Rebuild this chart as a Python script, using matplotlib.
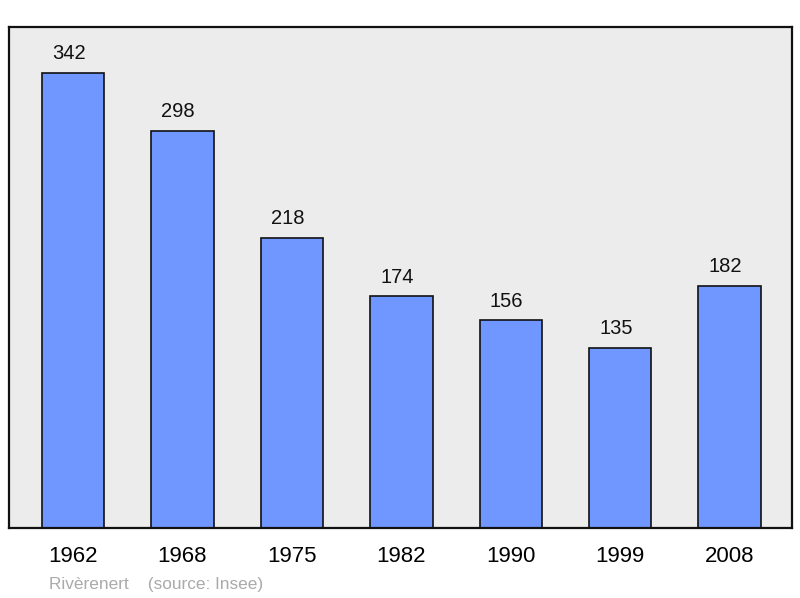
import matplotlib
matplotlib.use("Agg")
import matplotlib.pyplot as plt

years = ["1962", "1968", "1975", "1982", "1990", "1999", "2008"]
population = [342, 298, 218, 174, 156, 135, 182]

plt.rcParams["font.family"] = ["Liberation Sans", "DejaVu Sans"]

fig = plt.figure(figsize=(8, 5.98), dpi=100)
ax = fig.add_axes([9 / 800, 1 - 528 / 598, 783 / 800, 501 / 598])
ax.set_facecolor("#ececec")

x = list(range(len(years)))
ax.bar(x, population, width=0.57, color="#7097ff", edgecolor="#111111", linewidth=1.2, zorder=2)

# value labels sit a little left of bar centre, as in the original
for xi, v in zip(x, population):
    ax.annotate(str(v), (xi, v), xytext=(-3, 7), textcoords="offset points",
                ha="center", va="bottom", fontsize=14.5, color="#111111")

ax.set_xlim(-0.585, 6.57)
ax.set_ylim(0, 342 * 1.1)
ax.set_yticks([])
ax.set_xticks(x)
ax.set_xticklabels(years, fontsize=16)
ax.tick_params(axis="x", length=0, pad=13)
for s in ax.spines.values():
    s.set_linewidth(1.6)
    s.set_color("#111111")

fig.text(49 / 800, 1 - 584 / 598, "Rivèrenert    (source: Insee)", fontsize=12.4,
         color="#aaaaaa", ha="left", va="center")

fig.savefig("out.png", dpi=100, facecolor="white")
